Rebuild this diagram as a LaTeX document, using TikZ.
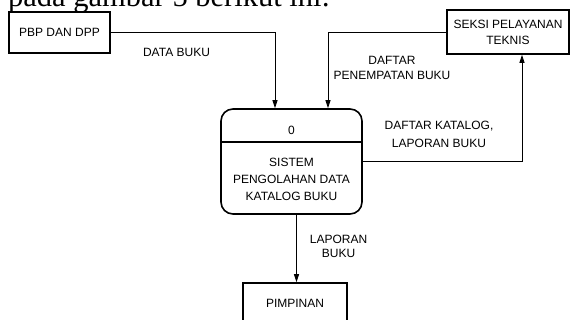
\documentclass[tikz,border=0pt]{standalone}
\usepackage{fontspec}
\setmainfont{Liberation Sans}
\newfontfamily\pageserif{Liberation Serif}
\usetikzlibrary{arrows.meta,positioning}
\tikzset{
  entity/.style={draw,line width=1.6pt,minimum width=101pt,minimum height=41pt,inner sep=2pt,align=center},
  process/.style={draw,line width=1.6pt,rounded corners=12pt,minimum width=141pt,minimum height=105pt},
  flow/.style={line width=0.9pt,-{Triangle[length=8pt,width=5pt]}},
  flowlabel/.style={align=center,inner sep=0pt}
}

\begin{document}
\begin{tikzpicture}[x=1pt,y=-1pt,font=\fontsize{12}{15}\selectfont]
  \clip (0,0) rectangle (570,320);
  % page text above the figure, cut at the top
  \node[anchor=base west,inner sep=0pt,font=\pageserif\fontsize{30.5}{30}\selectfont] (caption) at (8,7) {pada gambar 5 berikut ini:};
  % external entities
  \node[entity] (pbp) at (59.5,32.5) {PBP DAN DPP};
  \node[entity,minimum width=122pt,minimum height=44pt,font=\fontsize{12}{16}\selectfont] (seksi) at (508,32) {SEKSI PELAYANAN\\TEKNIS};
  \node[entity,minimum width=104pt,minimum height=40pt] (pim) at (295,303) {PIMPINAN};
  % process
  \node[process] (proc) at (291.5,161.5) {};
  \draw[line width=1.6pt] ([yshift=-34pt]proc.north west) -- ([yshift=-34pt]proc.north east);
  \node (pid) at (291.5,130) {0};
  \node[align=center,font=\fontsize{12}{17}\selectfont] (pname) at (291.5,179.5) {SISTEM\\PENGOLAHAN DATA\\KATALOG BUKU};
  % data flows
  \draw[flow] (pbp.east) -| ([xshift=-16.5pt]proc.north);
  \draw[flow] (seksi.west) -| ([xshift=36.5pt]proc.north);
  \draw[flow] (proc.east) -| ([xshift=14pt]seksi.south);
  \draw[flow] ([xshift=5pt]proc.south) -- ([xshift=5pt]proc.south |- pim.north);
  % flow labels
  \node[flowlabel] (ldata) at (176.5,52) {DATA BUKU};
  \node[flowlabel] (ldaftar) at (392,67.5) {DAFTAR\\PENEMPATAN BUKU};
  \node[flowlabel,font=\fontsize{12}{18}\selectfont] (lkatalog) at (439,134.5) {DAFTAR KATALOG,\\LAPORAN BUKU};
  \node[flowlabel,font=\fontsize{12}{14}\selectfont] (llaporan) at (338.5,246) {LAPORAN\\BUKU};
\end{tikzpicture}
\end{document}
